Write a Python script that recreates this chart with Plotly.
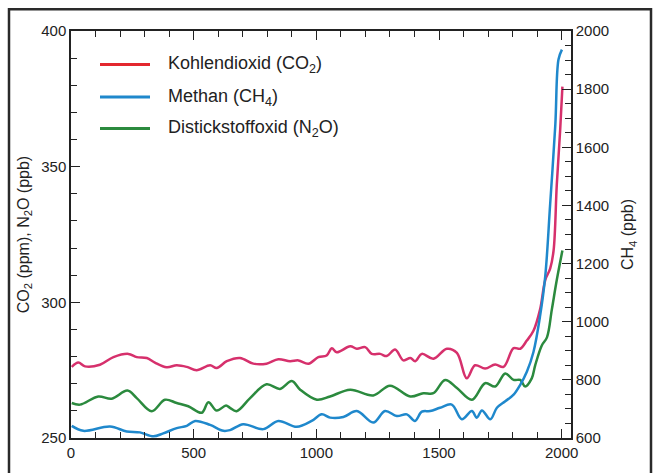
import plotly.graph_objects as go

# --- data ---
co2_years = [3, 30, 57, 118, 173, 234, 268, 309, 342, 390, 431, 472, 512, 567, 594, 635, 689,
             743, 797, 845, 893, 927, 968, 1008, 1042, 1063, 1083, 1138, 1165, 1199, 1226, 1260,
             1287, 1321, 1355, 1383, 1403, 1430, 1477, 1532, 1573, 1613, 1647, 1688, 1729, 1763,
             1804, 1831, 1858, 1885, 1912, 1933, 1953, 1967, 1980, 1994, 2003]
co2_ppm = [276.2, 277.8, 276.4, 277.0, 279.8, 281.0, 279.8, 279.5, 277.8, 276.1, 276.8, 276.2, 275.0,
           276.8, 275.8, 278.3, 279.5, 277.4, 277.4, 279.0, 278.3, 278.6, 277.4, 279.8, 280.4, 283.1,
           281.6, 283.8, 282.9, 283.5, 281.0, 281.0, 280.2, 282.6, 278.6, 279.5, 278.3, 281.0, 279.2,
           282.9, 281.4, 272.0, 276.8, 275.6, 277.1, 276.2, 283.1, 282.9, 285.9, 289.5, 297.4, 308.2,
           312.4, 319.1, 343.2, 363.8, 379.5]

ch4_years = [3, 50, 159, 227, 281, 336, 376, 431, 472, 506, 567, 621, 648, 702, 784, 845, 920, 981,
             1022, 1056, 1110, 1165, 1232, 1280, 1328, 1369, 1402, 1430, 1464, 1504, 1552, 1593, 1634,
             1654, 1675, 1709, 1736, 1770, 1804, 1831, 1858, 1885, 1912, 1933, 1953, 1974, 1987, 2001]
ch4_ppb = [641.7, 624.7, 639.6, 622.7, 619.3, 605.8, 616.0, 634.0, 641.7, 658.7, 645.0, 624.7, 627.0,
           647.5, 630.5, 658.7, 638.4, 658.7, 681.4, 670.1, 672.3, 692.6, 653.2, 692.6, 675.6, 681.4,
           658.7, 690.5, 692.6, 704.0, 715.0, 664.4, 692.6, 670.0, 695.0, 664.4, 704.0, 726.5, 749.0,
           783.0, 828.0, 896.0, 1020.0, 1156.0, 1404.0, 1676.0, 1902.0, 1936.0]

n2o_years = [3, 37, 111, 166, 230, 268, 329, 383, 431, 478, 533, 560, 594, 632, 648, 675, 730, 797,
             852, 900, 934, 1002, 1056, 1138, 1232, 1300, 1383, 1436, 1477, 1525, 1573, 1634, 1688,
             1729, 1770, 1804, 1831, 1851, 1878, 1892, 1919, 1940, 1960, 1980, 2003]
n2o_ppb = [262.9, 262.3, 265.3, 264.5, 267.5, 264.7, 259.9, 264.1, 262.9, 261.7, 259.3, 263.2, 260.1,
           262.0, 261.1, 259.9, 264.7, 269.8, 268.1, 271.0, 267.8, 264.1, 265.3, 267.8, 265.7, 269.3,
           265.3, 266.5, 266.5, 271.4, 268.4, 264.1, 270.2, 269.0, 273.8, 271.4, 271.4, 269.0, 272.0,
           276.8, 284.1, 287.1, 297.4, 308.2, 319.1]

series_names = ["Kohlendioxid (CO<sub>2</sub>)", "Methan (CH<sub>4</sub>)", "Distickstoffoxid (N<sub>2</sub>O)"]
line_colors = ["#d6306c", "#1f88cc", "#2b8a3e"]
legend_colors = ["#e3272e", "#1f88cc", "#2b8a3e"]

x_ticks = [0, 500, 1000, 1500, 2000]

# plot-area geometry (pixels) used to place the hand-drawn legend and frame
L, R, T, B = 71, 571, 31, 444
W, H = R - L, B - T


def px(x):
    return (x - L) / W


def py(y):
    return (B - y) / H


fig = go.Figure()

LW = 2.5
SM = 1.0
fig.add_trace(go.Scatter(x=co2_years, y=co2_ppm, mode="lines", name=series_names[0], showlegend=False,
                         line=dict(color=line_colors[0], width=LW, shape="spline", smoothing=SM)))
fig.add_trace(go.Scatter(x=ch4_years, y=ch4_ppb, mode="lines", name=series_names[1], showlegend=False,
                         yaxis="y2",
                         line=dict(color=line_colors[1], width=LW, shape="spline", smoothing=SM)))
fig.add_trace(go.Scatter(x=n2o_years, y=n2o_ppb, mode="lines", name=series_names[2], showlegend=False,
                         line=dict(color=line_colors[2], width=LW, shape="spline", smoothing=SM)))

FONT = "Liberation Sans, Arial, sans-serif"
axis_font = dict(family=FONT, size=15, color="#222222")
title_font = dict(family=FONT, size=16, color="#222222")

shapes = [dict(type="rect", xref="paper", yref="paper",
               x0=px(9), x1=px(651), y0=py(490), y1=py(9),
               line=dict(color="#2a2a2a", width=2.5), fillcolor="rgba(0,0,0,0)", layer="below")]
annotations = []
row_y = [65, 98, 130]
for i, nm in enumerate(series_names):
    shapes.append(dict(type="line", xref="paper", yref="paper",
                       x0=px(100), x1=px(150), y0=py(row_y[i]), y1=py(row_y[i]),
                       line=dict(color=legend_colors[i], width=3)))
    annotations.append(dict(xref="paper", yref="paper", x=px(166), y=py(row_y[i]),
                            xanchor="left", yanchor="middle", showarrow=False, text=nm,
                            font=dict(family=FONT, size=18, color="#222222")))

fig.update_layout(
    width=656, height=473,
    margin=dict(l=L, r=656 - R, t=T, b=473 - B),
    paper_bgcolor="white", plot_bgcolor="white",
    font=axis_font,
    showlegend=False,
    xaxis=dict(range=[0, 2038], tickvals=x_ticks, showgrid=False, zeroline=False,
               showline=True, linecolor="#222", linewidth=1.5, mirror="ticks",
               ticks="inside", ticklen=9, tickwidth=1.3, tickcolor="#222",
               minor=dict(dtick=100, ticks="inside", ticklen=6, tickwidth=1.3, tickcolor="#222"),
               tickfont=axis_font),
    yaxis=dict(range=[250, 400], dtick=50, showgrid=False, zeroline=False,
               showline=True, linecolor="#222", linewidth=1.5,
               ticks="inside", ticklen=9, tickwidth=1.3, tickcolor="#222",
               minor=dict(dtick=10, ticks="inside", ticklen=6, tickwidth=1.3, tickcolor="#222"),
               title=dict(text="CO<sub>2</sub> (ppm), N<sub>2</sub>O (ppb)", font=title_font, standoff=8),
               tickfont=axis_font),
    yaxis2=dict(range=[600, 2000], dtick=200, overlaying="y", side="right", showgrid=False,
                zeroline=False, showline=True, linecolor="#222", linewidth=1.5,
                ticks="inside", ticklen=9, tickwidth=1.3, tickcolor="#222",
                minor=dict(dtick=50, ticks="inside", ticklen=6, tickwidth=1.3, tickcolor="#222"),
                title=dict(text="CH<sub>4</sub> (ppb)", font=title_font, standoff=14),
                tickfont=axis_font),
    shapes=shapes,
    annotations=annotations,
)

fig.write_html("out.html")
